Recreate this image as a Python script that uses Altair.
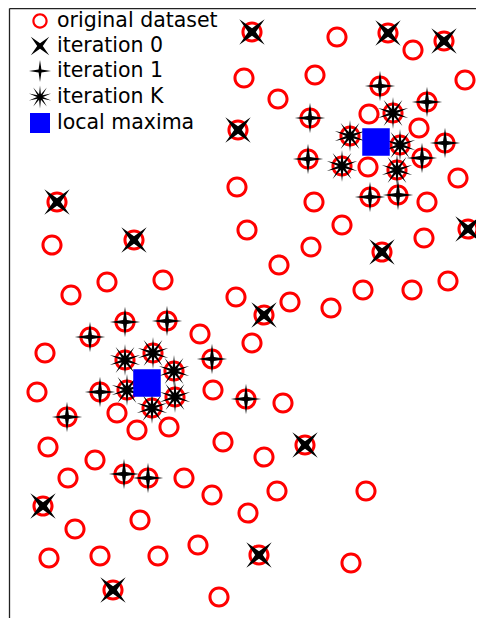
import math
import altair as alt
import pandas as pd

orig_x = [252, 337, 388, 413, 444, 244, 315, 465, 278, 380, 427, 238, 310, 369, 393, 419, 350, 400, 445, 308,
          368, 342, 397, 422, 458, 370, 398, 427, 314, 237, 57, 52, 134, 247, 342, 311, 424, 468, 382, 279,
          71, 107, 163, 236, 290, 331, 363, 412, 448, 264, 200, 252, 125, 167, 90, 45, 125, 153, 174, 212,
          37, 100, 127, 175, 213, 246, 283, 152, 67, 117, 137, 169, 223, 305, 264, 48, 95, 124, 148, 184,
          212, 68, 277, 366, 43, 75, 140, 248, 198, 259, 351, 49, 100, 158, 113, 219]
orig_y = [32, 37, 33, 50, 41, 78, 75, 80, 99, 86, 102, 130, 118, 114, 113, 128, 136, 145, 143, 159,
          167, 166, 170, 158, 178, 197, 195, 202, 202, 187, 202, 245, 240, 230, 225, 247, 238, 229, 252, 265,
          295, 282, 280, 297, 302, 308, 290, 290, 281, 315, 334, 343, 322, 321, 337, 353, 360, 353, 371, 359,
          392, 392, 390, 397, 390, 399, 403, 408, 417, 413, 430, 427, 442, 445, 457, 447, 460, 474, 478, 478,
          495, 478, 491, 491, 506, 529, 520, 513, 545, 555, 563, 558, 556, 556, 590, 597]

it0_x = [252, 388, 444, 238, 57, 134, 468, 382, 264, 305, 43, 259, 113]
it0_y = [32, 33, 41, 130, 202, 240, 229, 252, 315, 445, 506, 555, 590]

it1_x = [380, 427, 310, 445, 308, 422, 370, 398, 125, 167, 90, 212, 100, 246, 67, 124, 148]
it1_y = [86, 102, 118, 143, 159, 158, 197, 195, 322, 321, 337, 359, 392, 399, 417, 474, 478]

itK_x = [393, 350, 400, 342, 397, 125, 153, 174, 127, 175, 152]
itK_y = [113, 136, 145, 166, 170, 360, 353, 371, 390, 397, 408]

max_x = [376, 147]
max_y = [142, 383]

series_names = ["original dataset", "iteration 0", "iteration 1", "iteration K", "local maxima"]
series_colors = ["#ff0000", "#000000", "#000000", "#000000", "#0000ff"]

rows = []
for k, (xs, ys) in enumerate([(orig_x, orig_y), (it0_x, it0_y), (it1_x, it1_y),
                              (itK_x, itK_y), (max_x, max_y)]):
    for a, b in zip(xs, ys):
        rows.append({"x": a, "y": b, "series": series_names[k], "ord": k})
df = pd.DataFrame(rows)


# ---- marker shapes (unit square paths) ----
def star(n, ro, ri, rot_deg):
    pts = []
    for i in range(2 * n):
        r = ro if i % 2 == 0 else ri
        ang = math.radians(rot_deg - 90 + i * 180.0 / n)
        pts.append((r * math.cos(ang), r * math.sin(ang)))
    return "M" + "L".join(f"{p[0]:.3f},{p[1]:.3f}" for p in pts) + "Z"


ro, ri = 0.66, 0.47
ring = (f"M{ro},0A{ro},{ro},0,1,1,{-ro},0A{ro},{ro},0,1,1,{ro},0Z"
        f"M{ri},0A{ri},{ri},0,1,0,{-ri},0A{ri},{ri},0,1,0,{ri},0Z")
xmark = star(4, 1.12, 0.24, 45)
plus = star(4, 0.95, 0.17, 0)
kstar = star(10, 1.0, 0.26, 0)
sq = 0.86
square = f"M{-sq},{-sq}L{sq},{-sq}L{sq},{sq}L{-sq},{sq}Z"
series_shapes = [ring, xmark, plus, kstar, square]

legend = alt.Legend(
    title=None, orient="none", legendX=19, legendY=1, padding=0,
    symbolSize=540, symbolStrokeWidth=0, symbolOpacity=1,
    labelFont="DejaVu Sans", labelFontSize=20.5, labelColor="#000000",
    labelOffset=5, rowPadding=2, labelLimit=400,
)

axis_common = dict(domain=True, ticks=False, labels=False, grid=False, title=None,
                   domainColor="#222222", domainWidth=1.3)

chart = alt.Chart(df).mark_point(filled=True, opacity=1, size=1024, strokeWidth=0).encode(
    x=alt.X("x:Q", scale=alt.Scale(domain=[9, 476], nice=False, zero=False),
            axis=alt.Axis(orient="top", **axis_common)),
    y=alt.Y("y:Q", scale=alt.Scale(domain=[8, 618], reverse=True, nice=False, zero=False),
            axis=alt.Axis(orient="left", **axis_common)),
    color=alt.Color("series:N", scale=alt.Scale(domain=series_names, range=series_colors), legend=legend),
    shape=alt.Shape("series:N", scale=alt.Scale(domain=series_names, range=series_shapes), legend=legend),
    order=alt.Order("ord:Q"),
).properties(
    width=467, height=610,
    autosize=alt.AutoSizeParams(type="none"),
    padding={"left": 1, "top": 0, "right": 0, "bottom": 0},
    background="white",
).configure_view(stroke=None)

chart.save("out.html", embed_options={"renderer": "svg", "actions": False})
